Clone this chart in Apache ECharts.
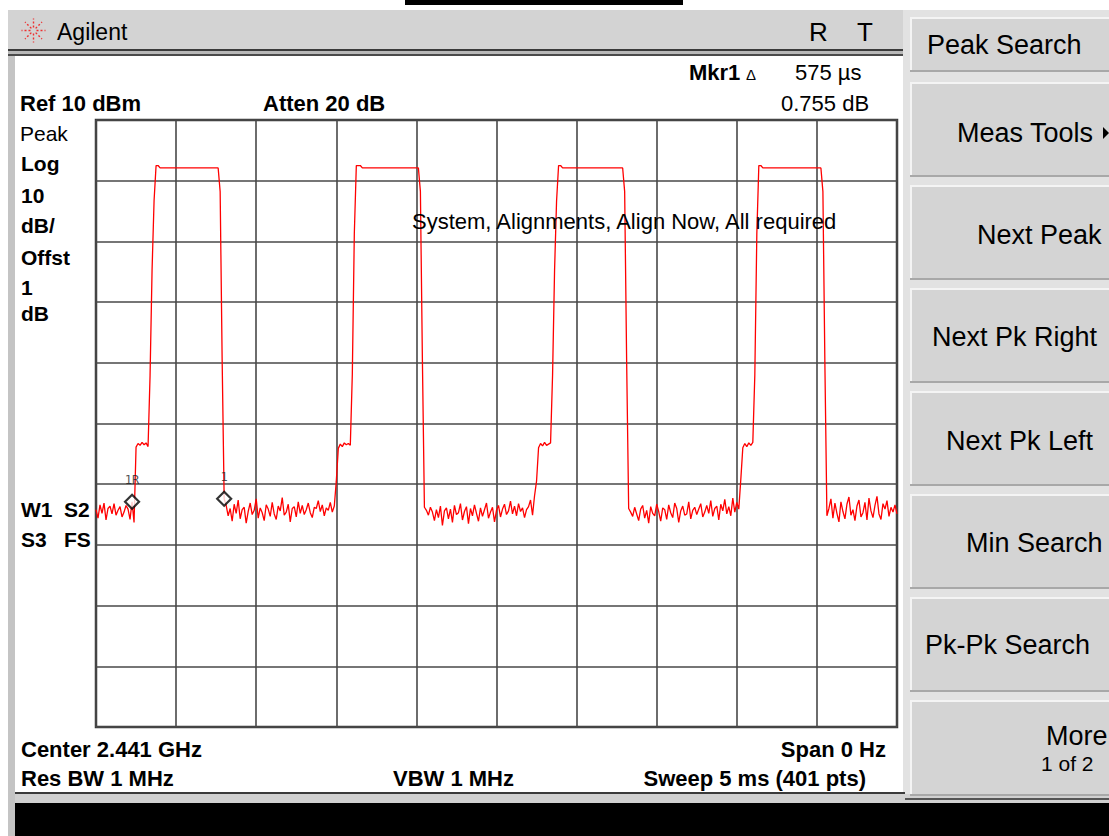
<!DOCTYPE html>
<html><head><meta charset="utf-8">
<script src="https://cdn.jsdelivr.net/npm/echarts@6/dist/echarts.min.js"></script>
<style>html,body{margin:0;padding:0;background:#fff}#c{width:1109px;height:836px}</style>
</head><body><div id="c"></div>
<script>
// ---- data (dBm, 401 sweep points over 5 ms) ----
const SWEEP_MS = 5;
const POINTS = 401;
const REF_LEVEL = 10;     // dBm, top of screen
const DB_PER_DIV = 10;
const DIVS = 10;

const noiseA = [-54.2,-55.6,-53.4,-54.8,-53.1,-55.9,-54.0,-53.6,-54.9,-53.2,-55.1,-54.3,-53.7,-55.4,-54.6,-53.5,-54.1,-55.8,-52.9,-56.3];
const pulse1 = [-43.9,-43.3,-43.6,-43.1,-43.5,-43.2,-43.8,
  -32.1,-14.7,-3.3,2.5,2.5,
  2.1,2.1,2.1,2.1,2.1,2.1,2.1,2.1,2.1,2.1,2.1,2.1,2.1,2.1,2.1,2.1,2.1,2.1,2.1,2.1,2.1,2.1,2.1,2.1,2.1,2.1,2.1,2.1,2.1,2.1,
  -1.8,-29.6,-52.4];
const noiseB = [-53.5,-55.2,-54.0,-56.1,-53.3,-54.8,-52.6,-55.7,-54.2,-53.8,
  -56.4,-54.5,-53.1,-55.0,-54.3,-52.4,-55.6,-53.9,-54.7,-56.0,
  -53.4,-54.1,-55.3,-53.0,-54.9,-55.8,-53.6,-54.4,-52.2,-55.1,
  -54.6,-53.3,-56.2,-54.0,-53.7,-55.4,-52.9,-54.8,-53.5,-55.0,
  -54.2,-53.1,-54.7,-55.5,-53.8,-54.0,-52.7,-54.5,-53.4,-55.2,
  -53.9,-54.3,-53.0,-54.6,-53.6];
const pulse2 = [-49.5,-44.1,-43.4,-43.8,-43.2,-43.5,-43.3,-43.6,
  -31.9,-8.7,2.5,2.5,2.5,
  2.1,2.1,2.1,2.1,2.1,2.1,2.1,2.1,2.1,2.1,2.1,2.1,2.1,2.1,2.1,2.1,2.1,2.1,2.1,2.1,2.1,2.1,2.1,2.1,2.1,2.1,2.1,2.1,2.1,
  -1.8,-29.6,-53.8];
const noiseC = [-54.3,-55.1,-53.8,-54.6,-56.0,-54.2,-55.5,-53.6,-56.8,-54.4,
  -53.9,-55.7,-54.1,-56.3,-53.5,-55.0,-54.7,-53.2,-55.9,-54.5,
  -53.7,-56.5,-54.0,-55.2,-53.4,-54.8,-56.1,-53.9,-55.3,-54.2,
  -53.1,-55.6,-54.6,-53.8,-56.2,-54.3,-53.5,-55.4,-54.1,-53.3,
  -55.0,-54.4,-52.8,-54.9,-53.6,-55.2,-53.2,-54.5,-53.9,-55.5,
  -54.2,-53.7,-52.6,-55.1,-51.9];
const pulse3 = [-49.5,-44.0,-43.3,-43.7,-43.1,-43.6,-43.4,-43.2,
  -32.0,-14.7,-3.3,2.5,2.5,
  2.1,2.1,2.1,2.1,2.1,2.1,2.1,2.1,2.1,2.1,2.1,2.1,2.1,2.1,2.1,2.1,2.1,2.1,2.1,2.1,2.1,2.1,2.1,2.1,2.1,2.1,2.1,2.1,2.1,2.1,2.1,
  -1.8,-30.0,-54.0];
const noiseD = [-54.6,-55.3,-53.8,-54.9,-56.0,-54.1,-53.5,-55.6,-54.3,-56.4,
  -53.7,-54.8,-55.2,-53.3,-54.5,-56.1,-53.9,-54.2,-55.8,-53.4,
  -54.7,-55.5,-53.1,-54.0,-56.3,-54.4,-53.6,-55.1,-54.9,-52.9,
  -55.7,-54.3,-53.8,-55.0,-54.1,-53.2,-55.4,-54.6,-53.5,-54.8,
  -52.7,-55.3,-54.0,-53.6,-55.9,-53.3,-54.4,-52.5,-54.9,-53.7,
  -55.2,-52.3,-54.6,-53.0,-54.1];
const pulse4 = [-49.2,-44.0,-43.3,-43.8,-43.2,-43.6,-43.1,
  -32.0,-8.8,2.5,2.5,
  2.1,2.1,2.1,2.1,2.1,2.1,2.1,2.1,2.1,2.1,2.1,2.1,2.1,2.1,2.1,2.1,2.1,2.1,2.1,2.1,2.1,2.1,2.1,2.1,2.1,2.1,2.1,2.1,2.1,2.1,
  -1.8,-30.5,-55.2];
const noiseE = [-54.0,-52.4,-55.6,-53.1,-54.8,-56.2,-52.9,-54.5,-55.7,-53.3,
  -52.1,-55.1,-54.2,-56.0,-53.6,-52.6,-55.4,-54.7,-53.0,-55.9,
  -52.3,-54.4,-55.5,-53.5,-52.0,-54.9,-55.8,-53.2,-54.1,-52.7,
  -55.3,-53.8,-54.6,-53.4,-54.9];

const markerNames  = ['1R', '1'];
const markerTimes  = [0.225, 0.8];     // ms
const markerLevels = [-52.9, -52.4];   // dBm

// ---- build ----
const trace = [].concat(noiseA, pulse1, noiseB, pulse2, noiseC, pulse3, noiseD, pulse4, noiseE);
const dt = SWEEP_MS / (POINTS - 1);
const traceData = trace.map((v, i) => [i * dt, v]);
const markerData = markerNames.map((n, i) => ({ name: n, value: [markerTimes[i], markerLevels[i]] }));

const FONT = '"Liberation Sans", Arial, sans-serif';
function T(text, x, y, size, opt) {
  opt = opt || {};
  return { type: 'text', x: x, y: y, z: 100,
    style: { text: text, fill: opt.fill || '#000',
      font: (opt.bold ? 'bold ' : '') + size + 'px ' + (opt.family || FONT),
      textAlign: opt.align || 'left', textVerticalAlign: 'middle' } };
}
function R(x, y, w, h, fill, z) {
  return { type: 'rect', z: z == null ? -5 : z, shape: { x: x, y: y, width: w, height: h }, style: { fill: fill } };
}
function btn(y, h) {
  return [
    R(910, y, 199, h, '#d4d4d4'),
    R(910, y, 199, 2, '#f4f4f4'),
    R(910, y, 2, h, '#f4f4f4'),
    R(910, y + h - 2, 199, 2, '#a8a8a8')
  ];
}
// logo rays
const logo = [];
for (let k = 0; k < 8; k++) {
  const a = k * Math.PI / 4;
  logo.push({ type: 'line', z: 10, shape: { x1: 33.5 + Math.cos(a) * 3, y1: 30.5 + Math.sin(a) * 3, x2: 33.5 + Math.cos(a) * 12, y2: 30.5 + Math.sin(a) * 12 },
    style: { stroke: '#ee3030', lineWidth: 1.4, lineDash: [2, 2] } });
}

const graphics = [].concat(
  [
    R(405, 0, 278, 5, '#000'),
    R(8, 10, 7, 826, '#c4c4c4'),
    R(8, 10, 897, 39, '#d3d3d3'),
    R(8, 49, 897, 2, '#3a3a3a'),
    R(8, 51, 897, 3, '#b8b8b8'),
    R(8, 54, 897, 2, '#4a4a4a'),
    R(903, 10, 206, 793, '#e2e2e2'),
    R(15, 792, 890, 2, '#3a3a3a'),
    R(15, 794, 1094, 9, '#d0d0d0'),
    R(905, 798, 204, 2, '#555'),
    R(15, 803, 1094, 33, '#000')
  ],
  btn(17, 55), btn(82, 95), btn(185, 95), btn(288, 95), btn(391, 95), btn(494, 95), btn(597, 95), btn(700, 96),
  logo,
  [
    { type: 'polygon', z: 10, shape: { points: [[1103, 127], [1109, 133], [1103, 139]] }, style: { fill: '#000' } },
    T('Agilent', 57, 32, 23),
    T('R', 809, 32, 26),
    T('T', 857, 32, 26),
    T('Peak Search', 927, 45, 27),
    T('Meas Tools', 957, 133, 27),
    T('Next Peak', 977, 235, 27),
    T('Next Pk Right', 932, 337, 27),
    T('Next Pk Left', 946, 441, 27),
    T('Min Search', 966, 543, 27),
    T('Pk-Pk Search', 925, 645, 27),
    T('More', 1046, 736, 27),
    T('1 of 2', 1041, 763, 21),
    T('Ref 10 dBm', 20, 103, 22, { bold: true }),
    T('Atten 20 dB', 263, 103, 22, { bold: true }),
    T('Mkr1', 689, 72, 22, { bold: true }),
    T('\u0394', 746, 74, 15),
    T('575 \u00b5s', 795, 72, 22),
    T('0.755 dB', 781, 103, 22),
    T('Peak', 20, 133, 21),
    T('Log', 21, 163, 21, { bold: true }),
    T('10', 21, 195, 21, { bold: true }),
    T('dB/', 21, 225, 21, { bold: true }),
    T('Offst', 21, 257, 21, { bold: true }),
    T('1', 21, 287, 21, { bold: true }),
    T('dB', 21, 313, 21, { bold: true }),
    T('W1', 21, 509, 21, { bold: true }),
    T('S2', 64, 509, 21, { bold: true }),
    T('S3', 21, 539, 21, { bold: true }),
    T('FS', 64, 539, 21, { bold: true }),
    T('System, Alignments, Align Now, All required', 412, 221, 22),
    T('Center 2.441 GHz', 21, 749, 22, { bold: true }),
    T('Span 0 Hz', 886, 749, 22, { bold: true, align: 'right' }),
    T('Res BW 1 MHz', 21, 778, 22, { bold: true }),
    T('VBW 1 MHz', 393, 778, 22, { bold: true }),
    T('Sweep 5 ms (401 pts)', 866, 778, 22, { bold: true, align: 'right' })
  ]
);

const chart = echarts.init(document.getElementById('c'), null, { renderer: 'svg', width: 1109, height: 836 });
chart.setOption({
  animation: false,
  backgroundColor: '#ffffff',
  grid: { left: 96, top: 120, width: 801, height: 607, show: true, borderColor: '#383838', borderWidth: 2.5, backgroundColor: 'transparent' },
  xAxis: {
    type: 'value', min: 0, max: SWEEP_MS, interval: SWEEP_MS / DIVS,
    axisLabel: { show: false }, axisTick: { show: false }, axisLine: { show: false },
    splitLine: { show: true, lineStyle: { color: '#484848', width: 1.6 } }
  },
  yAxis: {
    type: 'value', min: REF_LEVEL - DB_PER_DIV * DIVS, max: REF_LEVEL, interval: DB_PER_DIV,
    axisLabel: { show: false }, axisTick: { show: false }, axisLine: { show: false },
    splitLine: { show: true, lineStyle: { color: '#484848', width: 1.6 } }
  },
  graphic: graphics,
  series: [
    {
      type: 'line', data: traceData, showSymbol: false, symbol: 'none',
      lineStyle: { color: '#ff0000', width: 1.3 }, clip: true, z: 3
    },
    {
      type: 'scatter', data: markerData, symbol: 'diamond', symbolSize: 14, z: 5,
      itemStyle: { color: '#ffffff', borderColor: '#000000', borderWidth: 2.2 },
      label: { show: true, position: 'top', distance: 8, formatter: p => p.name,
        fontFamily: '"DejaVu Sans Mono", monospace', fontSize: 12, color: '#222' }
    }
  ]
});
</script></body></html>
